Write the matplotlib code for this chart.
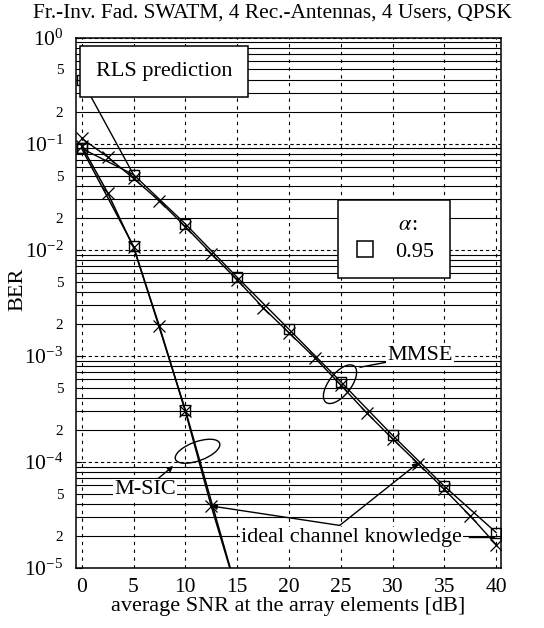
import numpy as np
import matplotlib.pyplot as plt
from matplotlib.patches import Ellipse
from matplotlib.lines import Line2D
from matplotlib import transforms
from matplotlib.ticker import FixedLocator, FuncFormatter

plt.rcParams['font.family'] = ['Liberation Serif', 'DejaVu Serif']
plt.rcParams['mathtext.fontset'] = 'stix'

# SNR grids [dB]
snr_fine = [0, 2.5, 5, 7.5, 10, 12.5, 15, 17.5, 20, 22.5, 25, 27.5, 30, 32.5, 35, 37.5, 40]
snr_coarse = [0, 5, 10, 15, 20, 25, 30, 35, 40]

# MMSE
mmse_ideal = [0.112, 0.075, 0.047, 0.0288, 0.0165, 0.0092, 0.0052, 0.00285, 0.00165,
              0.00096, 0.00053, 0.00029, 0.000165, 9.6e-5, 5.5e-5, 3.1e-5, 1.66e-5]
mmse_rls = [0.09, 0.051, 0.0175, 0.0055, 0.00178, 0.00057, 0.000178, 5.9e-5, 2.16e-5]

# M-SIC
msic_snr_fine = [0, 2.5, 5, 7.5, 10, 12.5, 15]
msic_ideal = [0.095, 0.0345, 0.0105, 0.0019, 3.0e-4, 3.84e-5, 5.9e-6]
msic_snr_coarse = [0, 5, 10, 15]
msic_rls = [0.09, 0.0108, 3.1e-4, 5.9e-6]

# "RLS prediction" pointer (from label marker to the MMSE curve)
rls_ptr_x = [0, 5]
rls_ptr_y = [0.40, 0.051]

title = 'Fr.-Inv. Fad. SWATM, 4 Rec.-Antennas, 4 Users, QPSK'

fig = plt.figure(figsize=(5.44, 6.28), dpi=100)
ax = fig.add_axes([76 / 544, 1 - 568 / 628, 425 / 544, 530.5 / 628])
ax.set_yscale('log')
ax.set_xlim(-0.55, 40.47)
ax.set_ylim(1e-5, 1)

# grid: dashed at decades / every 5 dB, solid at minor decades
ax.xaxis.set_major_locator(FixedLocator(np.arange(0, 41, 5)))
ax.yaxis.set_minor_locator(FixedLocator([m * 10.0 ** e for e in range(-5, 0) for m in range(2, 10)]))
ax.grid(True, which='major', axis='x', color='k', lw=0.8, ls=(0, (3, 4)))
ax.grid(True, which='major', axis='y', color='k', lw=0.8, ls=(0, (3, 2.5)))
ax.grid(True, which='minor', axis='y', color='k', lw=0.8, ls='-')
ax.set_axisbelow(True)


def major_fmt(v, pos):
    return r'$\mathregular{10^{%d}}$' % round(np.log10(v))


def minor_fmt(v, pos):
    m = v / 10.0 ** np.floor(np.log10(v) + 1e-9)
    if abs(m - 5) < 0.01:
        return '5'
    if abs(m - 2) < 0.01:
        return '2'
    return ''


ax.yaxis.set_major_formatter(FuncFormatter(major_fmt))
ax.yaxis.set_minor_formatter(FuncFormatter(minor_fmt))
ax.tick_params(axis='x', length=0, pad=7, labelsize=15.5)
ax.tick_params(axis='y', which='major', direction='in', length=4, pad=9, labelsize=15.5)
ax.tick_params(axis='y', which='minor', direction='in', length=3, pad=9, labelsize=11)
for s in ax.spines.values():
    s.set_linewidth(1.1)

# curves
ax.plot(snr_fine, mmse_ideal, color='k', lw=1.0, marker='x', ms=8, mew=0.9, zorder=3)
ax.plot(snr_coarse, mmse_rls, color='k', lw=1.0, marker='s', ms=7.5, mfc='none', mew=1.0, zorder=3)
ax.plot(msic_snr_fine, msic_ideal, color='k', lw=1.1, marker='x', ms=8, mew=0.9, zorder=3)
ax.plot(msic_snr_coarse, msic_rls, color='k', lw=1.1, marker='s', ms=7.5, mfc='none', mew=1.0, zorder=3)

# RLS prediction label
ax.plot(rls_ptr_x, rls_ptr_y, color='k', lw=1.0, marker='s', ms=7.5, mfc='none', markevery=[0], zorder=3)
ax.text(7.95, 0.48, 'RLS prediction', ha='center', va='center', fontsize=16, zorder=6,
        bbox=dict(boxstyle='square,pad=0.72', fc='white', ec='k', lw=1.1))

# ellipses
def ellipse_at(x, y, w, h, ang):
    tr = fig.dpi_scale_trans + transforms.ScaledTranslation(x, y, ax.transData)
    ax.add_patch(Ellipse((0, 0), w, h, angle=ang, transform=tr, fill=False, ec='k', lw=1.0, zorder=4))


ellipse_at(24.93, 5.4e-4, 0.46, 0.22, 52)
ellipse_at(11.18, 1.26e-4, 0.47, 0.19, 20)

txt_box = dict(boxstyle='square,pad=0.05', fc='white', ec='none')
arrow = dict(arrowstyle='-|>', color='k', lw=1.0, mutation_scale=8, shrinkA=0, shrinkB=0)

ax.annotate('MMSE', xy=(26.86, 7.8e-4), xytext=(29.5, 1.0e-3), ha='left', va='center',
            fontsize=16, bbox=txt_box, arrowprops=dict(arrowstyle='-', color='k', lw=1.0,
                                                      shrinkA=0, shrinkB=0), zorder=5)
ax.annotate('M-SIC', xy=(8.84, 9.15e-5), xytext=(6.1, 5.5e-5), ha='center', va='center',
            fontsize=16, bbox=txt_box, arrowprops=arrow, zorder=5)

# ideal channel knowledge
ax.text(26.04, 1.95e-5, 'ideal channel knowledge', ha='center', va='center', fontsize=16,
        bbox=txt_box, zorder=5)
ax.annotate('', xy=(12.5, 3.84e-5), xytext=(24.9, 2.52e-5), arrowprops=arrow, zorder=5)
ax.annotate('', xy=(32.5, 9.8e-5), xytext=(24.9, 2.52e-5), arrowprops=arrow, zorder=5)
ax.plot([37.4, 39.8], [1.95e-5, 1.95e-5], color='k', lw=1.0, zorder=5)

# legend
h = Line2D([], [], ls='none', marker='s', ms=12, mfc='white', mec='k', mew=1.1)
leg = ax.legend([h], ['0.95'], title='     ' + r'$\alpha$:', loc='upper left',
                bbox_to_anchor=(0.6165, 0.6937), fontsize=16, title_fontsize=16,
                frameon=True, fancybox=False, edgecolor='k', framealpha=1,
                borderpad=0.72, labelspacing=0.3, handlelength=1.0, handletextpad=0.85,
                borderaxespad=0)
leg.get_frame().set_linewidth(1.1)
leg.set_zorder(6)

ax.set_xlabel('average SNR at the array elements [dB]', fontsize=16, labelpad=0)
fig.text(17.5 / 544, 1 - 289 / 628, 'BER', rotation=90, ha='center', va='center', fontsize=16)
fig.text(0.5, 1 - 13 / 628, title, ha='center', va='center', fontsize=15.4)

fig.savefig('out.png', dpi=100)
